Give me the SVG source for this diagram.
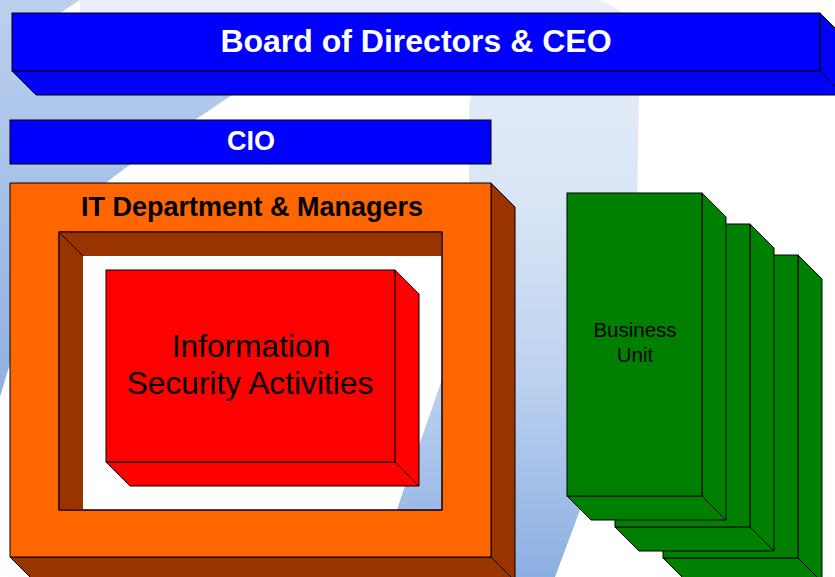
<svg xmlns="http://www.w3.org/2000/svg" width="835" height="577" viewBox="0 0 835 577">
  <defs>
    <linearGradient id="bgLeft" gradientUnits="userSpaceOnUse" x1="0" y1="0" x2="0" y2="400">
      <stop offset="0" stop-color="#bcd0ee"/>
      <stop offset="1" stop-color="#8eb0e2"/>
    </linearGradient>
    <linearGradient id="bgBand" gradientUnits="userSpaceOnUse" x1="0" y1="0" x2="0" y2="577">
      <stop offset="0" stop-color="#eaf0f9"/>
      <stop offset="0.35" stop-color="#d9e5f5"/>
      <stop offset="0.66" stop-color="#bcd1ef"/>
      <stop offset="1" stop-color="#8cafe2"/>
    </linearGradient>
    <style>
      .edge { stroke: #000; stroke-width: 1; stroke-linejoin: miter; }
      .blue { fill: #0000ff; }
      .orange { fill: #ff6600; }
      .brown { fill: #993300; }
      .red { fill: #ff0000; }
      .green { fill: #008000; }
      .ttl { font-family: "Liberation Sans", Arial, sans-serif; font-weight: bold; text-anchor: middle; }
      .lbl { font-family: "Liberation Sans", Arial, sans-serif; text-anchor: middle; fill: #000; }
    </style>
  </defs>

  <!-- backdrop swooshes -->
  <g id="backdrop">
    <rect x="0" y="0" width="835" height="577" fill="#ffffff"/>
    <path d="M80,0 L600,0 C625,10 638,25 640,45 L637,200 C637,330 615,430 580,510 L555,577 L375,577 L397,510 C415,455 432,410 445,370 C462,320 470,260 469,200 L469,105 Q470,94 480,90 L80,13 Z" fill="url(#bgBand)"/>
    <path d="M0,0 L80,0 L60,13 L300,62 L232,95 C180,130 135,160 106,183 C60,230 25,310 0,397 Z" fill="url(#bgLeft)"/>
  </g>

  <!-- Board of Directors & CEO -->
  <g id="board">
    <polygon class="blue edge" points="12,71 820,71 844,95 36,95"/>
    <polygon class="blue edge" points="820,13 844,37 844,95 820,71"/>
    <rect class="blue edge" x="12" y="13" width="808" height="58"/>
    <text class="ttl" x="416" y="52" font-size="32" fill="#ffffff">Board of Directors &amp; CEO</text>
  </g>

  <!-- CIO -->
  <g id="cio">
    <rect class="blue edge" x="10" y="120" width="481" height="44"/>
    <text class="ttl" x="251" y="150" font-size="27" fill="#ffffff">CIO</text>
  </g>

  <!-- IT Department & Managers with recessed opening -->
  <g id="it-department">
    <polygon class="brown edge" points="10,557 491,557 515,581 34,581"/>
    <polygon class="brown edge" points="491,183 515,207 515,581 491,557"/>
    <path class="orange edge" fill-rule="evenodd" d="M10,183 H491 V557 H10 Z M59,232 V510 H442 V232 Z"/>
    <polygon class="brown" points="59,232 442,232 442,256 83,256 83,510 59,510"/>
    <line class="edge" x1="59" y1="232" x2="83" y2="256"/>
    <rect x="59" y="232" width="383" height="278" fill="none" class="edge"/>
    <text class="ttl" x="252" y="216" font-size="27" fill="#000000">IT Department &amp; Managers</text>
  </g>

  <!-- Information Security Activities -->
  <g id="infosec">
    <polygon class="red edge" points="106,462 395,462 419,486 130,486"/>
    <polygon class="red edge" points="395,270 419,294 419,486 395,462"/>
    <rect class="red edge" x="106" y="270" width="289" height="192"/>
    <text class="lbl" x="251" y="357" font-size="31.7">Information</text>
    <text class="lbl" x="250" y="394" font-size="31.7">Security Activities</text>
  </g>

  <!-- Business Unit stack, back to front -->
  <g id="business-unit-3">
    <polygon class="green edge" points="663,558 798,558 822,582 687,582"/>
    <polygon class="green edge" points="798,255 822,279 822,582 798,558"/>
    <rect class="green edge" x="663" y="255" width="135" height="303"/>
  </g>
  <g id="business-unit-2">
    <polygon class="green edge" points="615,527 750,527 774,551 639,551"/>
    <polygon class="green edge" points="750,224 774,248 774,551 750,527"/>
    <rect class="green edge" x="615" y="224" width="135" height="303"/>
  </g>
  <g id="business-unit-1">
    <polygon class="green edge" points="567,496 702,496 726,520 591,520"/>
    <polygon class="green edge" points="702,193 726,217 726,520 702,496"/>
    <rect class="green edge" x="567" y="193" width="135" height="303"/>
    <text class="lbl" x="635" y="337" font-size="20.5">Business</text>
    <text class="lbl" x="635" y="362" font-size="20.5">Unit</text>
  </g>
</svg>
